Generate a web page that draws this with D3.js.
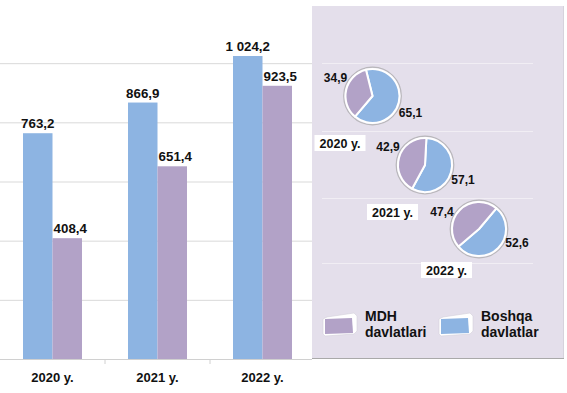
<!DOCTYPE html>
<html>
<head>
<meta charset="utf-8">
<script src="https://cdn.jsdelivr.net/npm/d3@7"></script>
<style>
  body { margin: 0; background: #fff; }
  svg { display: block; font-family: "Liberation Sans", Arial, sans-serif; font-weight: bold; }
</style>
</head>
<body>
<svg id="chart" width="567" height="393"></svg>
<script>
// data
const years = ['2020 y.', '2021 y.', '2022 y.'];
const otherVals = [763.2, 866.9, 1024.2];   // Boshqa davlatlar
const mdhVals = [408.4, 651.4, 923.5];      // MDH davlatlari
const mdhShare = [34.9, 42.9, 47.4];
const otherShare = [65.1, 57.1, 52.6];
const gridTicks = [200, 400, 600, 800, 1000];
const seriesNames = ['Boshqa davlatlar', 'MDH davlatlari'];

const BLUE = '#8db4e2';
const PURPLE = '#b2a2c7';

const svg = d3.select('#chart');
const fmt = d3.formatLocale({ decimal: ',', thousands: ' ', grouping: [3], currency: ['', ''] }).format(',.1f');

const baseY = 359;
const x0 = d3.scaleBand().domain(years).range([0, 315]);
const x1 = d3.scaleBand().domain(seriesNames).range([0, x0.bandwidth()]).paddingOuter(0.78);
const y = d3.scaleLinear().domain([0, 1200]).range([baseY, 4]);
const color = d3.scaleOrdinal().domain(seriesNames).range([BLUE, PURPLE]);

// gridlines
svg.append('g')
    .call(d3.axisRight(y).tickValues(gridTicks).tickSize(312).tickFormat(''))
    .call(g => g.select('.domain').remove())
    .call(g => g.selectAll('line').attr('stroke', '#d9d9d9'));

// bars
const rows = years.map((yr, i) => ({ yr, vals: [otherVals[i], mdhVals[i]] }));
const grp = svg.append('g').selectAll('g').data(rows).join('g')
    .attr('transform', d => `translate(${x0(d.yr)},0)`);

grp.selectAll('rect')
    .data(d => d.vals.map((v, k) => ({ s: seriesNames[k], v })))
    .join('rect')
    .attr('x', d => x1(d.s))
    .attr('y', d => y(d.v))
    .attr('width', x1.bandwidth())
    .attr('height', d => baseY - y(d.v))
    .attr('fill', d => color(d.s));

grp.selectAll('text')
    .data(d => d.vals.map((v, k) => ({ s: seriesNames[k], v, k })))
    .join('text')
    .attr('x', d => x1(d.s) + x1.bandwidth() / 2 + (d.k ? 3 : 0))
    .attr('y', d => y(d.v) - 5)
    .attr('text-anchor', 'middle')
    .attr('font-size', 13.3)
    .attr('fill', '#111')
    .text(d => fmt(d.v));

// x axis
const xAxis = svg.append('g')
    .attr('transform', `translate(0,${baseY})`)
    .call(d3.axisBottom(x0).tickSize(0).tickPadding(14));
xAxis.select('.domain').attr('stroke', '#d0d0d0').attr('d', 'M0,0.5H312');
xAxis.selectAll('text').attr('font-size', 13).attr('fill', '#111')
    .attr('font-family', '"Liberation Sans", Arial, sans-serif').attr('font-weight', 'bold');
xAxis.selectAll('.sep').data([105, 210]).join('line')
    .attr('class', 'sep')
    .attr('x1', d => d).attr('x2', d => d)
    .attr('y1', 0).attr('y2', 5)
    .attr('stroke', '#d0d0d0');

// side panel
const panel = svg.append('g');
panel.append('rect')
    .attr('x', 312).attr('y', 6).attr('width', 251).attr('height', 352)
    .attr('fill', '#e4dfeb');
panel.append('line')
    .attr('x1', 312).attr('x2', 564).attr('y1', 358.5).attr('y2', 358.5)
    .attr('stroke', '#a9a9a9');
panel.append('line')
    .attr('x1', 563.5).attr('x2', 563.5).attr('y1', 6).attr('y2', 358)
    .attr('stroke', '#d6d2dc');
panel.selectAll('.pline').data([63, 131, 198, 263]).join('line')
    .attr('class', 'pline')
    .attr('x1', 322).attr('x2', 533)
    .attr('y1', d => d + 0.5).attr('y2', d => d + 0.5)
    .attr('stroke', '#f1eef4');

// pies
const pieCenters = [[372.5, 96], [425, 165], [479, 229]];
const pieStart = [-14, 3, 40];
const R = 27;
const arc = d3.arc().innerRadius(0).outerRadius(R);

years.forEach((yr, i) => {
    const [cx, cy] = pieCenters[i];
    const a0 = pieStart[i] * Math.PI / 180;
    const pie = d3.pie().sort(null).value(d => d.v)
        .startAngle(a0).endAngle(a0 + 2 * Math.PI);
    const data = [{ s: seriesNames[0], v: otherShare[i] }, { s: seriesNames[1], v: mdhShare[i] }];
    const g = panel.append('g').attr('transform', `translate(${cx},${cy})`);
    g.append('circle').attr('r', R + 1.8).attr('fill', 'none')
        .attr('stroke', '#a5a5a5').attr('stroke-width', 1.2).attr('opacity', 0.7);
    g.selectAll('path').data(pie(data)).join('path')
        .attr('d', arc)
        .attr('fill', d => color(d.data.s))
        .attr('stroke', '#fff').attr('stroke-width', 2)
        .attr('stroke-linejoin', 'round');

    g.append('text').attr('x', -37).attr('y', i === 2 ? -13 : -14)
        .attr('text-anchor', 'middle').attr('font-size', 12).attr('fill', '#111')
        .text(fmt(mdhShare[i]));
    g.append('text').attr('x', 38).attr('y', i === 0 ? 20.5 : (i === 1 ? 19 : 18))
        .attr('text-anchor', 'middle').attr('font-size', 12).attr('fill', '#111')
        .text(fmt(otherShare[i]));

    const ly = i === 2 ? 41 : 47;
    g.append('rect').attr('x', -58).attr('y', ly - 8).attr('width', 51).attr('height', 16)
        .attr('fill', '#fff');
    g.append('text').attr('x', -32.5).attr('y', ly + 4.5)
        .attr('text-anchor', 'middle').attr('font-size', 12.5).attr('fill', '#111')
        .text(yr);
});

// legend
const legendItems = [
    { s: seriesNames[1], lines: ['MDH', 'davlatlari'], x: 323 },
    { s: seriesNames[0], lines: ['Boshqa', 'davlatlar'], x: 439 }
];
const lg = panel.selectAll('.leg').data(legendItems).join('g')
    .attr('class', 'leg')
    .attr('transform', d => `translate(${d.x},313)`);
lg.append('path')
    .attr('d', 'M4,4 L31,0 L34,3 L34,18 L31,21 L2,23 L0,21 L0,6 Z')
    .attr('fill', '#fff').attr('stroke', '#d4d0da').attr('stroke-width', 0.6);
lg.append('path')
    .attr('d', 'M2,6 L29,5 L30,20 L2,21 Z')
    .attr('fill', d => color(d.s));
lg.append('text')
    .attr('x', 42).attr('y', 8).attr('font-size', 14).attr('fill', '#111')
    .selectAll('tspan').data(d => d.lines).join('tspan')
    .attr('x', 42).attr('dy', (d, k) => k ? 16 : 0)
    .text(d => d);
</script>
</body>
</html>
